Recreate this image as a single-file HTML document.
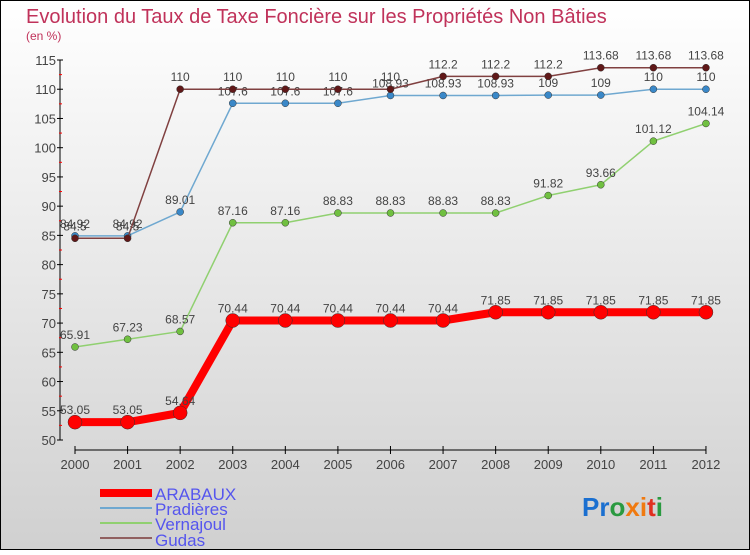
<!DOCTYPE html>
<html><head><meta charset="utf-8"><style>
body{margin:0;width:750px;height:550px;overflow:hidden;font-family:"Liberation Sans",sans-serif}
</style></head><body>
<svg id="c" width="750" height="550" xmlns="http://www.w3.org/2000/svg">
<defs><linearGradient id="bg" x1="0" y1="0" x2="0" y2="1"><stop offset="0" stop-color="#ffffff"/><stop offset="1" stop-color="#d0d0d0"/></linearGradient></defs>
<rect x="0.5" y="0.5" width="749" height="549" fill="url(#bg)" stroke="#000"/>
<text x="26" y="23" font-size="20" fill="#c0325a">Evolution du Taux de Taxe Foncière sur les Propriétés Non Bâties</text>
<text x="26" y="40" font-size="12" fill="#c0325a">(en %)</text>
<g id="axes"></g><g id="series"></g>
<g>
<rect x="100" y="489" width="52" height="8" fill="#f00"/>
<text x="155" y="500" font-size="17" fill="#5555ee">ARABAUX</text>
<rect x="100" y="507" width="52" height="2" fill="#6fa8d0"/>
<text x="155" y="515" font-size="17" fill="#5555ee">Pradières</text>
<rect x="100" y="522" width="52" height="2" fill="#90d070"/>
<text x="155" y="530" font-size="17" fill="#5555ee">Vernajoul</text>
<rect x="100" y="537" width="52" height="2" fill="#906060"/>
<text x="155" y="546" font-size="17" fill="#5555ee">Gudas</text>
</g>
<text x="582" y="516" font-size="26" font-weight="bold"><tspan fill="#1a6fd0">Pr</tspan><tspan fill="#2a9a40">o</tspan><tspan fill="#f07a10">x</tspan><tspan fill="#f07a10">i</tspan><tspan fill="#e03020">t</tspan><tspan fill="#2a9a40">i</tspan></text>
</svg>
<script>
const years=[2000,2001,2002,2003,2004,2005,2006,2007,2008,2009,2010,2011,2012];
const arabaux=[53.05,53.05,54.64,70.44,70.44,70.44,70.44,70.44,71.85,71.85,71.85,71.85,71.85];
const pradieres=[84.92,84.92,89.01,107.6,107.6,107.6,108.93,108.93,108.93,109,109,110,110];
const vernajoul=[65.91,67.23,68.57,87.16,87.16,88.83,88.83,88.83,88.83,91.82,93.66,101.12,104.14];
const gudas=[84.5,84.5,110,110,110,110,110,112.2,112.2,112.2,113.68,113.68,113.68];
const yTicks=[50,55,60,65,70,75,80,85,90,95,100,105,110,115];
const NS="http://www.w3.org/2000/svg";
const X=i=>75+i*52.58, Y=v=>440-(v-50)*380/65;
function mk(t,a,p){const e=document.createElementNS(NS,t);for(const k in a)e.setAttribute(k,a[k]);p.appendChild(e);return e;}
const ax=document.getElementById('axes');
let l=mk('line',{x1:60,y1:60,x2:60,y2:440,stroke:'#000'},ax);


l=mk('line',{x1:75,y1:450,x2:706,y2:450,stroke:'#000'},ax);


yTicks.forEach((v,i)=>{mk('line',{x1:57,x2:63,y1:Y(v),y2:Y(v),stroke:'#000'},ax);
if(i<yTicks.length-1)mk('line',{x1:59,x2:62,y1:Y(v+2.5),y2:Y(v+2.5),stroke:'#f00'},ax);
const t=mk('text',{x:56,y:Y(v)+5,'font-size':13,fill:'#444','text-anchor':'end'},ax);t.textContent=v;

});
years.forEach((y,i)=>{mk('line',{x1:X(i),x2:X(i),y1:446,y2:454,stroke:'#000'},ax);
const t=mk('text',{x:X(i),y:469,'font-size':13,fill:'#444','text-anchor':'middle'},ax);t.textContent=y;

});
const sg=document.getElementById('series');
function draw(name,data,col,w,r,dot){
const g=mk('g',{},sg);


mk('polyline',{points:data.map((v,i)=>X(i)+','+Y(v)).join(' '),fill:'none',stroke:col,'stroke-width':w,'stroke-linejoin':'round'},g);
data.forEach((v,i)=>{const c=mk('circle',{cx:X(i),cy:Y(v),r:r,fill:dot,stroke:'#333','stroke-width':0.5},g);


const t=mk('text',{x:X(i),y:Y(v)-8,'font-size':12,fill:'#444','text-anchor':'middle'},g);t.textContent=v;

});}
draw('vernajoul',vernajoul,'#90d070',1.5,3.5,'#70c040');
draw('pradieres',pradieres,'#6fa8d0',1.5,3.5,'#3a88c8');
draw('gudas',gudas,'#804040',1.5,3.5,'#601818');
draw('arabaux',arabaux,'#f00',8,7,'#f00');
</script>
</body></html>
